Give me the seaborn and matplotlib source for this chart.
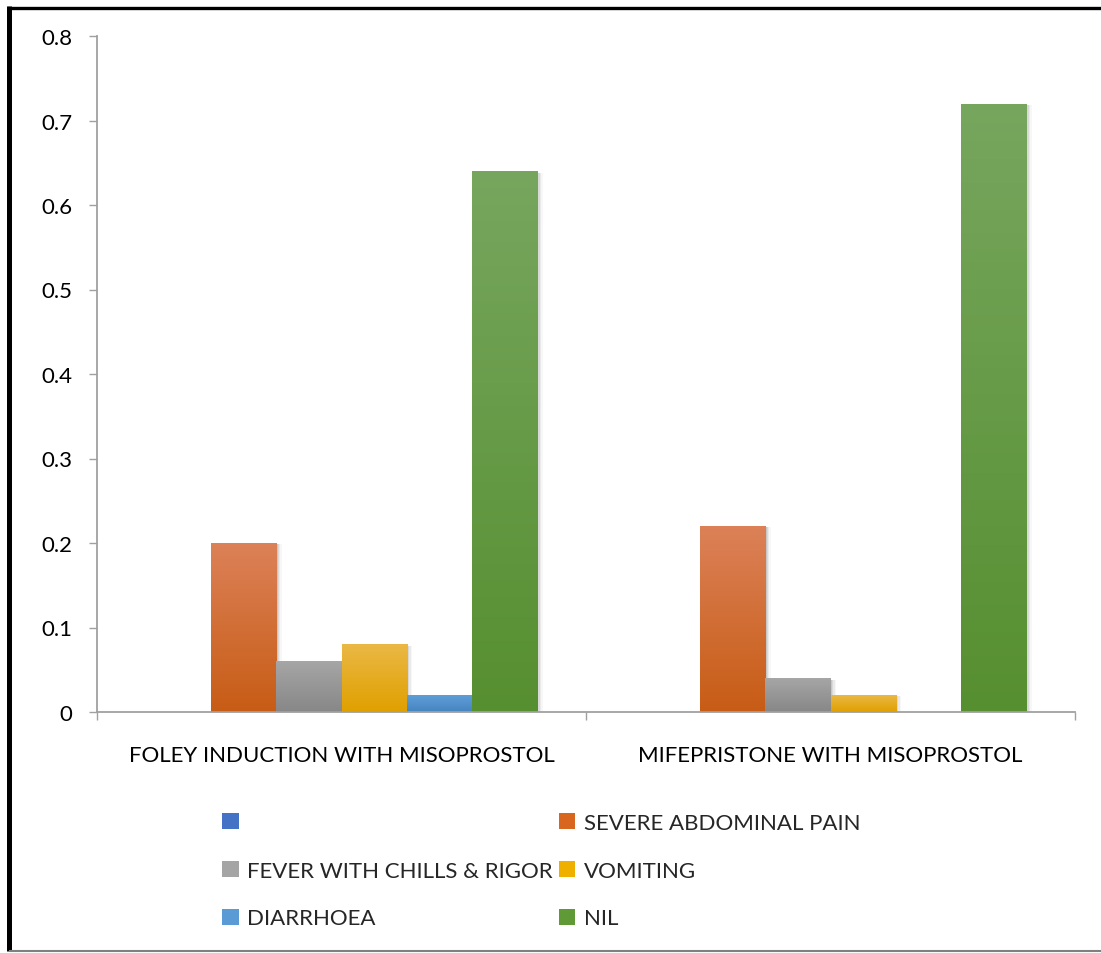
import numpy as np
import pandas as pd
import matplotlib
matplotlib.use("Agg")
import matplotlib.pyplot as plt
from matplotlib.colors import LinearSegmentedColormap
from matplotlib.patches import Patch
from matplotlib.lines import Line2D
import matplotlib.patheffects as pe
import seaborn as sns

# ---- data -------------------------------------------------------------
groups = ["FOLEY INDUCTION WITH MISOPROSTOL", "MIFEPRISTONE WITH MISOPROSTOL"]
series = ["", "SEVERE ABDOMINAL PAIN", "FEVER WITH CHILLS & RIGOR",
          "VOMITING", "DIARRHOEA", "NIL"]
foley_vals = [0.0, 0.20, 0.06, 0.08, 0.02, 0.64]
mife_vals = [0.0, 0.22, 0.04, 0.02, 0.0, 0.72]
y_ticks = [0, 0.1, 0.2, 0.3, 0.4, 0.5, 0.6, 0.7, 0.8]

# base, light (top) and dark (bottom) shades for each series
base_colors = ["#4472C4", "#D9661F", "#A5A5A5", "#F0B000", "#5B9BD5", "#5F9A37"]
top_colors = ["#5A86D0", "#DC8158", "#A6A6A6", "#EAB845", "#5E9ED8", "#77A65E"]
bot_colors = ["#3A62B0", "#C75C15", "#878787", "#E0A000", "#4784BF", "#568F30"]

df = pd.DataFrame({
    "group": np.repeat(groups, len(series)),
    "series": series * len(groups),
    "value": foley_vals + mife_vals,
})

# ---- figure -----------------------------------------------------------
sns.set_theme(style="white")
plt.rcParams["font.family"] = ["Lato", "DejaVu Sans"]

W, H = 1101, 954
fig = plt.figure(figsize=(W / 100, H / 100), dpi=100)
ax = fig.add_axes([97 / W, 1 - 713 / H, (1075 - 97) / W, (713 - 37) / H])

sns.barplot(data=df, x="group", y="value", hue="series", hue_order=series,
            order=groups, palette=base_colors, width=0.8, gap=0,
            saturation=1, legend=False, ax=ax, edgecolor="none")

ax.set_ylim(0, 0.8)
ax.set_xlim(-0.5, len(groups) - 0.5)
xlim, ylim = ax.get_xlim(), ax.get_ylim()

# vertical gradient fill + soft shadow for every bar
grad = np.linspace(1, 0, 256).reshape(-1, 1)
shadow = [pe.SimplePatchShadow(offset=(dx, -1), shadow_rgbFace="#000000", alpha=a)
          for dx, a in [(4, 0.03), (3, 0.05), (2, 0.07), (1, 0.08)]]
for container, top, bot in zip(ax.containers, top_colors, bot_colors):
    cmap = LinearSegmentedColormap.from_list("g", [bot, top])
    for bar in container:
        h = bar.get_height()
        if h <= 0:
            bar.set_visible(False)
            continue
        x0, w = bar.get_x(), bar.get_width()
        bar.set_path_effects(shadow + [pe.Normal()])
        im = ax.imshow(grad[::-1], extent=[x0, x0 + w, 0, h], origin="lower",
                       cmap=cmap, aspect="auto", zorder=bar.get_zorder() + 0.1,
                       interpolation="bilinear")
        im.set_clip_path(bar)
ax.set_xlim(xlim)
ax.set_ylim(ylim)

# ---- axes styling -----------------------------------------------------
axis_color = "#A0A0A0"
for side in ["top", "right"]:
    ax.spines[side].set_visible(False)
for side in ["left", "bottom"]:
    ax.spines[side].set_color(axis_color)
    ax.spines[side].set_linewidth(1.3)

ax.set_yticks(y_ticks)
ax.set_yticklabels([f"{t:g}" for t in y_ticks])
ax.tick_params(axis="y", which="major", direction="out", length=6, width=1,
               color=axis_color, pad=12, labelsize=16, labelcolor="#000000",
               left=True)

ax.set_xticks(range(len(groups)))
ax.set_xticklabels(groups)
ax.set_xticks(np.arange(-0.5, len(groups)), minor=True)
ax.tick_params(axis="x", which="major", length=0, pad=24, labelsize=16,
               labelcolor="#000000")
ax.tick_params(axis="x", which="minor", direction="out", length=6, width=1,
               color=axis_color, bottom=True)
ax.set_xlabel("")
ax.set_ylabel("")
ax.grid(False)

# ---- legend (row-wise order in two columns) ----------------------------
handles = [Patch(facecolor=c, edgecolor="none") for c in base_colors]
order = [0, 2, 4, 1, 3, 5]
fig.legend([handles[i] for i in order], [series[i] for i in order],
           ncol=2, loc="upper left", bbox_to_anchor=(213 / W, 1 - 805 / H),
           frameon=False, fontsize=16, handlelength=0.75, handleheight=0.75,
           handletextpad=0.4, columnspacing=0.25, labelspacing=1.25,
           borderaxespad=0)

# ---- outer frame ------------------------------------------------------
def px_line(xs, ys, color, lw):
    fig.add_artist(Line2D([x / W for x in xs], [1 - y / H for y in ys],
                          color=color, linewidth=lw, transform=fig.transFigure,
                          solid_capstyle="butt"))

px_line([7, W], [8.5, 8.5], "#000000", 2.4)
px_line([9, 9], [7, 952], "#000000", 3.6)
px_line([9, W], [952, 952], "#808080", 1.5)

fig.savefig("out.png", dpi=100, facecolor="white")
